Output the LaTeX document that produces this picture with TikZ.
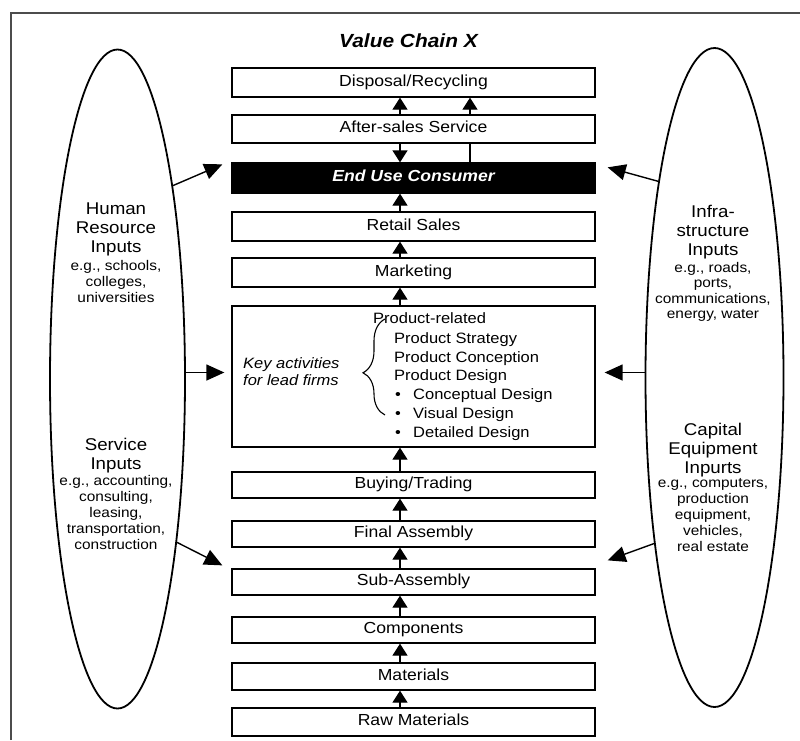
\documentclass[tikz,border=0pt]{standalone}
\usepackage{fontspec}
\setmainfont{Liberation Sans}[FakeStretch=1.1]
\usetikzlibrary{shapes.geometric,arrows.meta,calc,decorations.pathreplacing}

% bullet with a fixed indent for the design sub-items
\newcommand\listbul{\makebox[19pt][l]{\hspace{1pt}\textbullet}}

\begin{document}
\begin{tikzpicture}[x=1pt,y=-1pt,
  stage/.style={draw=black, line width=1.3pt, fill=white, minimum width=363pt,
    inner sep=0pt, text height=0.72em, text depth=0pt,
    font=\fontsize{16}{19}\selectfont},
  lens/.style={ellipse, draw=black, line width=1.8pt, inner sep=0pt},
  etitle/.style={anchor=north, align=center, inner sep=0pt,
    font=\fontsize{17}{19}\selectfont},
  eg/.style={anchor=north, align=center, inner sep=0pt,
    font=\fontsize{14}{16}\selectfont},
  listtext/.style={inner sep=0pt, align=left, font=\fontsize{15}{18.8}\selectfont},
  flow/.style={line width=1.3pt, -{Triangle[width=15pt,length=12pt]}},
  feed/.style={line width=1.4pt, -{Triangle[width=16pt,length=18pt]}},
  link/.style={line width=1.3pt},
  frameline/.style={draw=black!70, line width=1.5pt}
]
\useasboundingbox (0,0) rectangle (800,740);
\fill[white] (0,0) rectangle (800,740);

% outer frame (top and left edges)
\draw[frameline] (11,740) -- (11,13) -- (800,13);

% input ellipses
\node[lens, minimum width=135pt, minimum height=659pt] (lefte) at (117.5,379) {};
\node[lens, minimum width=138pt, minimum height=659pt] (righte) at (714.5,377.5) {};

\node[etitle] (hrT) at (116,202.8) {Human\\Resource\\Inputs};
\node[eg] (hrE) at (116,260) {e.g., schools,\\colleges,\\universities};

\node[etitle] (svT) at (116,437.6) {Service\\Inputs};
\node[eg] (svE) at (116,475) {e.g., accounting,\\consulting,\\leasing,\\transportation,\\construction};

\node[etitle] (inT) at (713,204.8) {Infra-\\structure\\Inputs};
\node[eg, font=\fontsize{14}{15.5}\selectfont] (inE) at (713,261.8) {e.g., roads,\\ports,\\communications,\\energy, water};

\node[etitle] (caT) at (713,422.6) {Capital\\Equipment\\Inpurts};
\node[eg] (caE) at (713,478.6) {e.g., computers,\\production\\equipment,\\vehicles,\\real estate};

% title
\node[anchor=base west, inner sep=0pt, font=\fontsize{19}{23}\selectfont\bfseries\itshape] (title) at (339,47) {Value Chain X};

% value chain stages
\node[stage, minimum height=29pt] (disp)   at (413.5,82.5)  {Disposal/Recycling};
\node[stage, minimum height=28pt] (after)  at (413.5,129)   {After-sales Service};
\node[stage, minimum height=30pt, fill=black, text=white,
      font=\fontsize{16}{19}\selectfont\bfseries\itshape] (cons) at (413.5,178) {End Use Consumer};
\node[stage, minimum height=29pt] (retail) at (413.5,226.5) {Retail Sales};
\node[stage, minimum height=29pt] (mkt)    at (413.5,272.5) {Marketing};
\node[stage, minimum height=141pt] (key)   at (413.5,376.5) {};
\node[stage, minimum height=26pt] (buy)    at (413.5,485)   {Buying/Trading};
\node[stage, minimum height=26pt] (final)  at (413.5,534)   {Final Assembly};
\node[stage, minimum height=26pt] (sub)    at (413.5,582)   {Sub-Assembly};
\node[stage, minimum height=26pt] (comp)   at (413.5,630)   {Components};
\node[stage, minimum height=27pt] (mat)    at (413.5,676.5) {Materials};
\node[stage, minimum height=28pt] (raw)    at (413.5,722)   {Raw Materials};

% lead-firm activities
\node[listtext, anchor=north west, font=\fontsize{15}{17}\selectfont\itshape] (keyT) at (243,357.3) {Key activities\\for lead firms};
\node[listtext, anchor=base west] (prel) at (373,323) {Product-related};
\node[listtext, anchor=north west] (plist) at (394,332.3)
  {Product Strategy\\Product Conception\\Product Design\\\listbul Conceptual Design\\\listbul Visual Design\\\listbul Detailed Design};
\draw[line width=1.1pt, decorate, decoration={brace, amplitude=22pt, aspect=0.44}] (385,415) -- (385,319);

% flow through the chain
\coordinate (ax) at (400,0);
\coordinate (bx) at (470,0);
\draw[flow] (raw.north -| ax) -- (mat.south -| ax);
\draw[flow] (mat.north -| ax) -- (comp.south -| ax);
\draw[flow] (comp.north -| ax) -- (sub.south -| ax);
\draw[flow] (sub.north -| ax) -- (final.south -| ax);
\draw[flow] (final.north -| ax) -- (buy.south -| ax);
\draw[flow] (buy.north -| ax) -- (key.south -| ax);
\draw[flow] (key.north -| ax) -- (mkt.south -| ax);
\draw[flow] (mkt.north -| ax) -- (retail.south -| ax);
\draw[flow] (retail.north -| ax) -- (cons.south -| ax);
\draw[flow] (after.south -| ax) -- (cons.north -| ax);
\draw[flow] (after.north -| ax) -- (disp.south -| ax);
\draw[link] (cons.north -| bx) -- (after.south -| bx);
\draw[flow] (after.north -| bx) -- (disp.south -| bx);

% inputs feeding the chain
\coordinate (t1) at ($(cons.north west)+(-9,2)$);
\coordinate (t2) at ($(key.west)+(-7,-4)$);
\coordinate (t3) at ($(sub.north west)+(-9,-3)$);
\coordinate (t4) at ($(cons.north east)+(12,5)$);
\coordinate (t5) at ($(key.east)+(9,-4)$);
\coordinate (t6) at ($(sub.north east)+(12,-8)$);
\draw[feed] (lefte.74.5) -- (t1);
\draw[feed] (lefte.east |- t2) -- (t2);
\draw[feed] (lefte.-70.5) -- (t3);
\draw[feed] (righte.106.5) -- (t4);
\draw[feed] (righte.west |- t5) -- (t5);
\draw[feed] (righte.250.2) -- (t6);
\end{tikzpicture}
\end{document}
